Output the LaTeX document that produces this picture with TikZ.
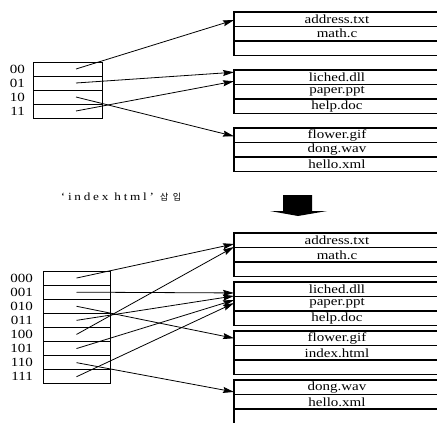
\documentclass[tikz,border=0pt]{standalone}
\usepackage{fontspec}
\setmainfont[FakeStretch=1.2]{Liberation Serif}
\newfontfamily\spaced[FakeStretch=1.2,LetterSpace=25]{Liberation Serif}
\newfontfamily\kor[LetterSpace=50]{Noto Sans CJK KR}
\usetikzlibrary{arrows.meta,positioning}

\begin{document}
\begin{tikzpicture}[
    x=1pt, y=-1pt,
    cell/.style={draw, rectangle, minimum width=206pt, minimum height=14.5pt,
                 inner sep=0pt, outer sep=0pt, line width=1.1pt,
                 font=\fontsize{12.5}{12.5}\selectfont},
    slot/.style={draw, rectangle, minimum width=69pt, minimum height=14pt,
                 inner sep=0pt, outer sep=0pt, line width=1pt},
    wslot/.style={slot, minimum width=67pt, minimum height=14.1pt},
    lbl/.style={inner sep=0pt, font=\fontsize{12.5}{12.5}\selectfont},
    arrow/.style={-{Stealth[length=11pt,width=6pt,inset=1.5pt]}, line width=0.8pt},
    node distance=0pt and 8pt
]
\useasboundingbox (0,0) rectangle (437,423);
\clip (0,0) rectangle (437,423);

% before
\node[cell, anchor=north west] (b1a) at (234,12) {address.txt};
\node[cell, below=of b1a] (b1b) {math.c};
\node[cell, below=of b1b] (b1c) {};
\node[cell, anchor=north west] (b2a) at (234,70) {liched.dll};
\node[cell, below=of b2a] (b2b) {paper.ppt};
\node[cell, below=of b2b] (b2c) {help.doc};
\node[cell, anchor=north west] (b3a) at (234,128) {flower.gif};
\node[cell, below=of b3a] (b3b) {dong.wav};
\node[cell, below=of b3b] (b3c) {hello.xml};

\node[slot, anchor=north west] (d00) at (33,62) {};
\node[slot, below=of d00] (d01) {};
\node[slot, below=of d01] (d10) {};
\node[slot, below=of d10] (d11) {};
\node[lbl, left=of d00] (l00) {00};
\node[lbl, left=of d01] (l01) {01};
\node[lbl, left=of d10] (l10) {10};
\node[lbl, left=of d11] (l11) {11};

\draw[arrow] ([xshift=8.5pt]d00.center) -- ([yshift=-0.8pt]b1a.west);
\draw[arrow] ([xshift=8.5pt]d01.center) -- ([yshift=5pt]b2a.west);
\draw[arrow] ([xshift=8.5pt]d11.center) -- ([yshift=-4pt]b2a.west);
\draw[arrow] ([xshift=8.5pt]d10.center) -- ([yshift=-1pt]b3a.west);

% insert
\node[inner sep=0pt, font=\fontsize{11}{11}\spaced] (ins) at (121,197)
  {‘index html’ {\kor\fontsize{9}{9}\selectfont 삽입}};
\fill (283,195) -- (312,195) -- (312,211) -- (327,211) -- (298,216)
  -- (270,211) -- (283,211) -- cycle;

% after
\node[cell, anchor=north west] (c1a) at (234,233) {address.txt};
\node[cell, below=of c1a] (c1b) {math.c};
\node[cell, below=of c1b] (c1c) {};
\node[cell, anchor=north west] (c2a) at (234,282) {liched.dll};
\node[cell, below=of c2a] (c2b) {paper.ppt};
\node[cell, below=of c2b] (c2c) {help.doc};
\node[cell, anchor=north west] (c3a) at (234,331) {flower.gif};
\node[cell, below=of c3a] (c3b) {index.html};
\node[cell, below=of c3b] (c3c) {};
\node[cell, anchor=north west] (c4a) at (234,380) {dong.wav};
\node[cell, below=of c4a] (c4b) {hello.xml};
\node[cell, below=of c4b] (c4c) {};

\node[wslot, anchor=north west] (e000) at (43,271) {};
\node[wslot, below=of e000] (e001) {};
\node[wslot, below=of e001] (e010) {};
\node[wslot, below=of e010] (e011) {};
\node[wslot, below=of e011] (e100) {};
\node[wslot, below=of e100] (e101) {};
\node[wslot, below=of e101] (e110) {};
\node[wslot, below=of e110] (e111) {};
\node[lbl, left=10pt of e000] (m000) {000};
\node[lbl, left=10pt of e001] (m001) {001};
\node[lbl, left=10pt of e010] (m010) {010};
\node[lbl, left=10pt of e011] (m011) {011};
\node[lbl, left=10pt of e100] (m100) {100};
\node[lbl, left=10pt of e101] (m101) {101};
\node[lbl, left=10pt of e110] (m110) {110};
\node[lbl, left=10pt of e111] (m111) {111};

\draw[arrow] (e000.center) -- ([yshift=-3.7pt]c1a.west);
\draw[arrow] (e100.center) -- ([yshift=-6.7pt]c1a.west);
\draw[arrow] (e001.center) -- ([yshift=-3.7pt]c2a.west);
\draw[arrow] (e011.center) -- ([yshift=-6.7pt]c2a.west);
\draw[arrow] (e101.center) -- ([yshift=3.7pt]c2b.west);
\draw[arrow] (e111.center) -- ([yshift=0.7pt]c2b.west);
\draw[arrow] (e010.center) -- (c3a.west);
\draw[arrow] (e110.center) -- ([yshift=-4.7pt]c4a.west);
\end{tikzpicture}
\end{document}
